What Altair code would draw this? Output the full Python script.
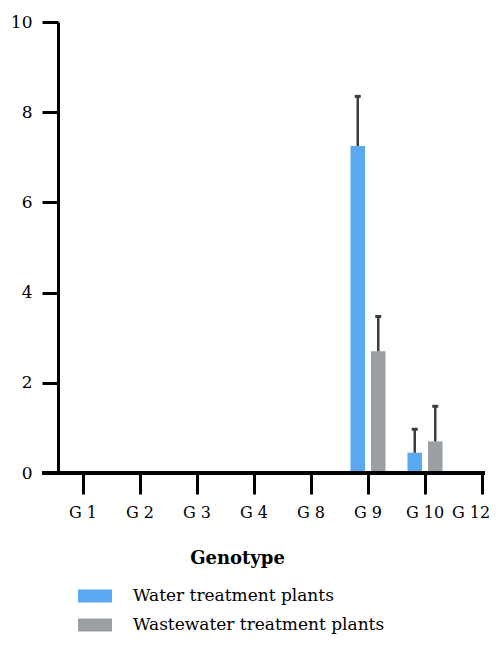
import altair as alt
import pandas as pd

genotypes = ["G 1", "G 2", "G 3", "G 4", "G 8", "G 9", "G 10", "G 12"]
water = [0, 0, 0, 0, 0, 7.25, 0.45, 0]
water_err = [0, 0, 0, 0, 0, 1.1, 0.52, 0]
waste = [0, 0, 0, 0, 0, 2.7, 0.7, 0]
waste_err = [0, 0, 0, 0, 0, 0.77, 0.78, 0]
series = ["Water treatment plants", "Wastewater treatment plants"]
colors = ["#5aa9f0", "#999fa2"]
y_ticks = [0, 2, 4, 6, 8, 10]

rows = []
for i, g in enumerate(genotypes):
    rows.append({"g": g, "s": series[0], "v": water[i], "e": water_err[i]})
    rows.append({"g": g, "s": series[1], "v": waste[i], "e": waste_err[i]})
df = pd.DataFrame(rows)
df["top"] = df["v"] + df["e"]

FONT = "DejaVu Serif"
W, H = 427, 451

x_enc = alt.X(
    "g:N",
    sort=genotypes,
    scale=alt.Scale(domain=genotypes, range=[-3.5, 452.5], paddingInner=0, paddingOuter=0),
    axis=alt.Axis(
        title="Genotype",
        domain=False,
        grid=False,
        labelAngle=0,
        labelFont=FONT,
        labelFontSize=16,
        labelColor="black",
        labelPadding=10,
        labelOffset={"expr": "datum.value == 'G 12' ? -11 : 0"},
        ticks=True,
        tickSize=21,
        tickWidth=3,
        tickColor="black",
        titleFont=FONT,
        titleFontSize=18,
        titleFontWeight="bold",
        titleColor="black",
        titleX=179,
        titleY=90,
        titleAlign="center",
        titleBaseline="alphabetic",
    ),
)
xoff = alt.XOffset(
    "s:N",
    sort=series,
    scale=alt.Scale(domain=series, paddingInner=0.29, paddingOuter=0.535),
)
y_scale = alt.Scale(domain=[0, 10], nice=False)

bars = alt.Chart(df).mark_bar(opacity=1).encode(
    x=x_enc,
    xOffset=xoff,
    y=alt.Y(
        "v:Q",
        scale=y_scale,
        axis=alt.Axis(
            title=None,
            values=y_ticks,
            grid=False,
            domainColor="black",
            domainWidth=3,
            tickColor="black",
            tickWidth=3,
            tickSize=16,
            labelFont=FONT,
            labelFontSize=17,
            labelColor="black",
            labelPadding=10,
        ),
    ),
    color=alt.Color(
        "s:N",
        sort=series,
        scale=alt.Scale(domain=series, range=colors),
        legend=alt.Legend(
            title=None,
            orient="none",
            legendX=20,
            legendY=557,
            padding=0,
            symbolType="M-1,-0.38H1V0.38H-1Z",
            symbolSize=1156,
            symbolStrokeWidth=0,
            symbolOpacity=1,
            labelFont=FONT,
            labelFontSize=17,
            labelColor="black",
            labelOffset=21,
            labelLimit=0,
            rowPadding=4,
        ),
    ),
)

err_df = df[df["e"] > 0]
err_rule = alt.Chart(err_df).mark_rule(color="#3c3c3c", strokeWidth=2.5).encode(
    x=alt.X("g:N", sort=genotypes),
    xOffset=alt.XOffset("s:N", sort=series),
    y=alt.Y("v:Q"),
    y2="top:Q",
)
err_cap = alt.Chart(err_df).mark_tick(color="#3c3c3c", thickness=3, size=6, opacity=1).encode(
    x=alt.X("g:N", sort=genotypes),
    xOffset=alt.XOffset("s:N", sort=series),
    y=alt.Y("top:Q"),
)
x_line = alt.Chart(df).mark_rule(color="black", strokeWidth=3).encode(
    x=alt.value(-16), x2=alt.value(W), y=alt.value(H)
)

chart = (
    alt.layer(bars, err_rule, err_cap, x_line)
    .properties(
        width=W,
        height=H,
        autosize=alt.AutoSizeParams(type="none"),
        padding={"left": 50, "top": 14, "right": 6, "bottom": 163},
    )
    .configure_view(stroke=None)
)

chart.save("out.html", embed_options={"renderer": "svg", "actions": False})
